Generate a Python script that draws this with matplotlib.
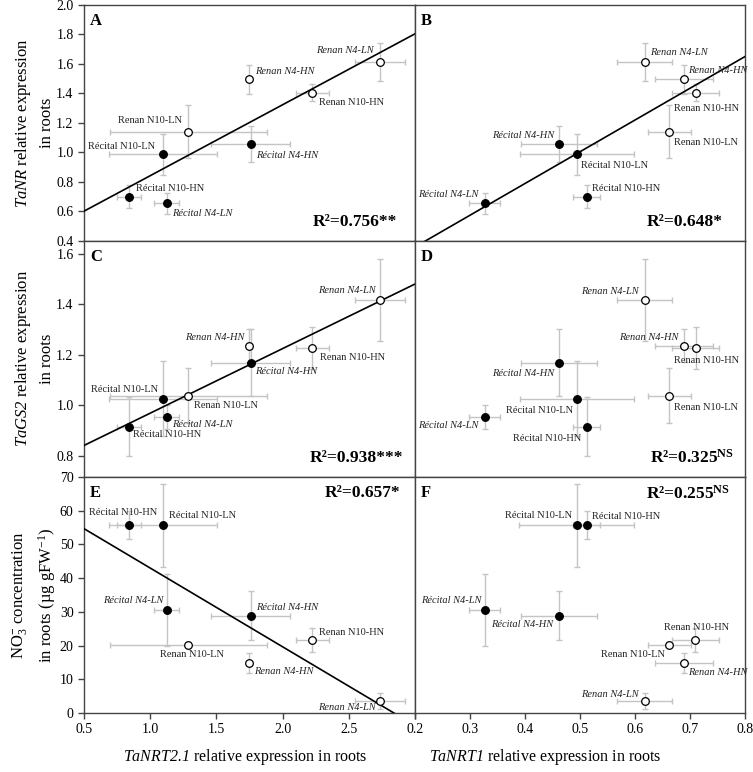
import numpy as np
import matplotlib
matplotlib.use("Agg")
import matplotlib.pyplot as plt

plt.rcParams['font.family'] = ['Liberation Serif', 'DejaVu Serif']
plt.rcParams['mathtext.fontset'] = 'custom'
plt.rcParams['mathtext.rm'] = 'Liberation Serif'
plt.rcParams['mathtext.it'] = 'Liberation Serif:italic'
plt.rcParams['mathtext.bf'] = 'Liberation Serif:bold'
# \mathsf used for gene names so that the digits come out italic too
plt.rcParams['mathtext.sf'] = 'Liberation Serif:italic'

# genotype / N treatment
samples = ["Récital N10-HN", "Récital N10-LN", "Récital N4-HN", "Récital N4-LN",
           "Renan N10-HN", "Renan N10-LN", "Renan N4-HN", "Renan N4-LN"]

# TaNRT2.1 relative expression in roots (x of A, C, E)
nrt21 = [0.841, 1.096, 1.758, 1.126, 2.224, 1.289, 1.748, 2.738]
nrt21_err = [0.09, 0.41, 0.30, 0.094, 0.125, 0.59, 0.02, 0.19]
# TaNRT1 relative expression in roots (x of B, D, F)
nrt1 = [0.512, 0.494, 0.462, 0.327, 0.710, 0.662, 0.689, 0.618]
nrt1_err = [0.025, 0.104, 0.069, 0.028, 0.043, 0.039, 0.052, 0.05]
# TaNR relative expression
nr = [0.699, 0.986, 1.056, 0.654, 1.405, 1.140, 1.496, 1.615]
nr_err = [0.08, 0.14, 0.12, 0.07, 0.06, 0.18, 0.10, 0.13]
# TaGS2 relative expression
gs2 = [0.915, 1.025, 1.168, 0.953, 1.226, 1.038, 1.236, 1.418]
gs2_err = [0.116, 0.149, 0.133, 0.048, 0.084, 0.108, 0.064, 0.163]
# NO3- concentration (ug gFW-1)
no3 = [55.7, 55.7, 28.9, 30.6, 21.7, 20.3, 14.9, 3.6]
no3_err = [4.2, 12.3, 7.3, 10.6, 3.6, 0.8, 3.0, 2.3]

r2_text = {"A": "R²=0.756**", "B": "R²=0.648*", "C": "R²=0.938***",
           "D": r"R²=0.325$^{\mathbf{NS}}$", "E": "R²=0.657*", "F": r"R²=0.255$^{\mathbf{NS}}$"}

# label offsets (pixels) and alignment, same order as samples
label_pos = {
    "A": [(6.7, 8.3, "left"), (-7.7, 7.7, "right"), (5.3, -11, "left"), (5.3, -10, "left"),
          (6.7, -10, "left"), (-6.3, 11, "right"), (5.7, 7.7, "left"), (-7, 11, "right")],
    "B": [(5.7, 8.3, "left"), (4.3, -11, "left"), (-5, 9, "right"), (-6, 8.7, "right"),
          (11, -16, "center"), (5, -11, "left"), (4, 8.3, "left"), (5.3, 9.3, "left")],
    "C": [(4, -7.7, "left"), (-4.3, 9.3, "right"), (4.3, -9, "left"), (5.3, -7.3, "left"),
          (7.7, -9.3, "left"), (5.3, -10, "left"), (-5, 8.3, "right"), (-4.3, 9.3, "right")],
    "D": [(-5, -11.7, "right"), (-3.7, -11.7, "right"), (-5, -10.7, "right"), (-6.7, -9, "right"),
          (11, -12, "center"), (5, -12.3, "left"), (-5.3, 7.7, "right"), (-6, 8.7, "right")],
    "E": [(-5.7, 12.3, "center"), (6, 10, "left"), (5.3, 8.3, "left"), (-3.3, 9, "right"),
          (6.7, 7.7, "left"), (3.3, -10, "center"), (5, -8.3, "left"), (-5, -7, "right")],
    "F": [(5, 8.3, "left"), (-5, 10, "right"), (-6, -9.3, "right"), (-3.3, 9.7, "right"),
          (1, 12.7, "center"), (-4, -10, "right"), (4, -9.3, "left"), (-6, 6.3, "right")],
}

SPINE = "#444444"
ERR = "#c4c4c4"

fig = plt.figure(figsize=(7.53, 7.72), dpi=100)

W, H = 753.0, 772.0
col_x = [(84, 415), (415, 745)]
row_y = [(5, 240.7), (240.7, 477), (477, 713)]

panels = [
    ("A", 0, 0, nrt21, nrt21_err, nr, nr_err, (0.5, 3.0), (0.4, 2.0), True),
    ("B", 0, 1, nrt1, nrt1_err, nr, nr_err, (0.2, 0.8), (0.4, 2.0), True),
    ("C", 1, 0, nrt21, nrt21_err, gs2, gs2_err, (0.5, 3.0), (0.715, 1.652), True),
    ("D", 1, 1, nrt1, nrt1_err, gs2, gs2_err, (0.2, 0.8), (0.715, 1.652), False),
    ("E", 2, 0, nrt21, nrt21_err, no3, no3_err, (0.5, 3.0), (0, 70), True),
    ("F", 2, 1, nrt1, nrt1_err, no3, no3_err, (0.2, 0.8), (0, 70), False),
]

axes = {}
for name, r, c, x, xe, y, ye, xl, yl, fit in panels:
    x0, x1 = col_x[c]
    y0, y1 = row_y[r]
    ax = fig.add_axes([x0 / W, 1 - y1 / H, (x1 - x0) / W, (y1 - y0) / H])
    axes[name] = ax
    ax.set_xlim(xl)
    ax.set_ylim(yl)

    for i in range(len(samples)):
        ax.errorbar(x[i], y[i], xerr=xe[i], yerr=ye[i], fmt="none", ecolor=ERR,
                    elinewidth=1, capsize=2.5, capthick=1, zorder=1)
    for i, s in enumerate(samples):
        face = "black" if s.startswith("Récital") else "white"
        ax.plot(x[i], y[i], "o", ms=5.5, mfc=face, mec="black", mew=0.9, zorder=4)
        dx, dy, ha = label_pos[name][i]
        style = "italic" if "N4" in s else "normal"
        ax.annotate(s, (x[i], y[i]), xytext=(dx, dy), textcoords="offset pixels",
                    ha=ha, va="center", fontsize=7.5, fontstyle=style, color="#222222", zorder=5)

    if fit:
        coef = np.polyfit(x, y, 1)
        xx = np.array(xl)
        ax.plot(xx, np.polyval(coef, xx), color="black", lw=1.2, zorder=3)

    ax.text(6 / (x1 - x0), 1 - 16 / (y1 - y0), name, transform=ax.transAxes,
            fontsize=12, fontweight="bold", va="center", ha="left")
    if r == 2:
        ax.text(0.955, 0.965, r2_text[name], transform=ax.transAxes, ha="right", va="top",
                fontsize=12.5, fontweight="bold")
    else:
        rx = {"A": 0.946, "B": 0.933, "C": 0.963, "D": 0.965}[name]
        ax.text(rx, 0.045, r2_text[name], transform=ax.transAxes, ha="right", va="bottom",
                fontsize=12.5, fontweight="bold")

    for sp in ax.spines.values():
        sp.set_color(SPINE)
        sp.set_linewidth(1)
    ax.tick_params(direction="out", length=4, width=1, color=SPINE, labelsize=10)
    if c == 1:
        ax.set_yticks([])
    if r < 2:
        ax.set_xticks([])

axes["A"].set_yticks(np.arange(0.4, 2.01, 0.2))
axes["A"].set_yticklabels(["%.1f" % v for v in np.arange(0.4, 2.01, 0.2)])
axes["C"].set_yticks(np.arange(0.8, 1.61, 0.2))
axes["C"].set_yticklabels(["%.1f" % v for v in np.arange(0.8, 1.61, 0.2)])
axes["E"].set_yticks(np.arange(0, 71, 10))
axes["E"].set_xticks([0.5, 1.0, 1.5, 2.0, 2.5, 3.0])
axes["E"].set_xticklabels(["0.5", "1.0", "1.5", "2.0", "2.5", ""])
axes["F"].set_xticks(np.arange(0.2, 0.81, 0.1))
axes["F"].set_xticklabels(["%.1f" % v for v in np.arange(0.2, 0.81, 0.1)])

ylab = dict(fontsize=12, linespacing=1.5, labelpad=1)
axes["A"].set_ylabel("$\\mathsf{TaNR}$ relative expression\nin roots", **ylab)
axes["C"].set_ylabel("$\\mathsf{TaGS2}$ relative expression\nin roots", **ylab)
axes["E"].set_ylabel("NO$_3^{\\mathbf{-}}$ concentration\nin roots (µg gFW$^{-1}$)", **ylab)

fig.text(245 / W, 1 - 757 / H, "$\\mathsf{TaNRT2.1}$ relative expression in roots", ha="center", va="center", fontsize=11.5)
fig.text(545 / W, 1 - 757 / H, "$\\mathsf{TaNRT1}$ relative expression in roots", ha="center", va="center", fontsize=11.5)

fig.savefig("out.png", dpi=100)
